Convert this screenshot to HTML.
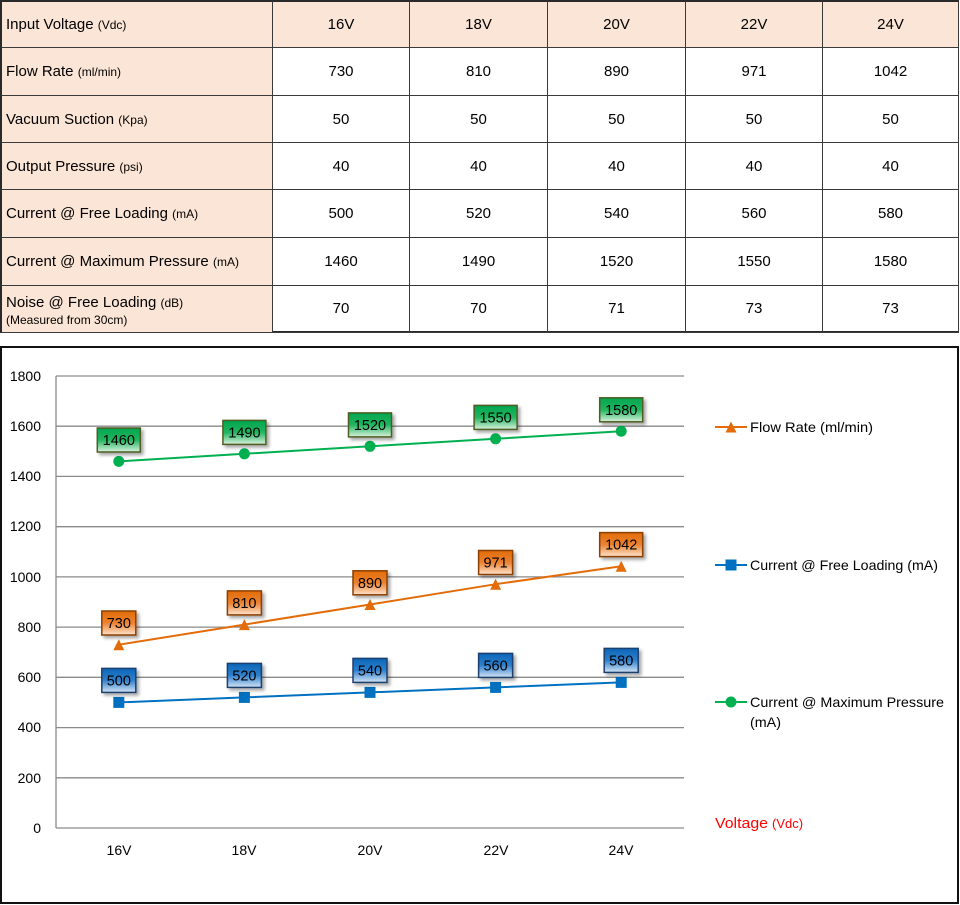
<!DOCTYPE html>
<html><head><meta charset="utf-8">
<style>
html,body{margin:0;padding:0;background:#fff;}
body{width:960px;height:905px;position:relative;overflow:hidden;font-family:"Liberation Sans",Arial,sans-serif;}
.c{position:absolute;box-sizing:border-box;display:flex;align-items:center;justify-content:center;font-size:15px;color:#000;border-right:1px solid #3a3a3a;border-bottom:1px solid #3a3a3a;}
.h{background:#fbe5d6;}
.l{justify-content:flex-start;padding-left:4px;background:#fbe5d6;}
.u{font-size:12px;}
</style></head><body>
<div style="position:absolute;left:0;top:0;width:959px;height:333px;box-sizing:border-box;border:2px solid #2a2a2a;border-right:1px solid #2a2a2a;"></div>
<div id="tbl"></div>
<script>
(function(){
var rows=[
 ['<span>Input Voltage <span class="u">(Vdc)</span></span>','16V','18V','20V','22V','24V'],
 ['<span>Flow Rate <span class="u">(ml/min)</span></span>','730','810','890','971','1042'],
 ['<span>Vacuum Suction <span class="u">(Kpa)</span></span>','50','50','50','50','50'],
 ['<span>Output Pressure <span class="u">(psi)</span></span>','40','40','40','40','40'],
 ['<span>Current @ Free Loading <span class="u">(mA)</span></span>','500','520','540','560','580'],
 ['<span>Current @ Maximum Pressure <span class="u">(mA)</span></span>','1460','1490','1520','1550','1580'],
 ['<div style="line-height:19px;padding-top:2px">Noise @ Free Loading <span class="u">(dB)</span><br><span class="u" style="display:block;line-height:14px">(Measured from 30cm)</span></div>','70','70','71','73','73']
];
var ys=[0,48,96,143,190,238,285.5,333];
var xs=[0,273,410,548,686,823,959];
var h='';
for(var r=0;r<7;r++){for(var c=0;c<6;c++){
 var cls='c'+(c==0?' l':(r==0?' h':''));
 var top=ys[r],ht=ys[r+1]-ys[r];
 h+='<div class="'+cls+'" style="left:'+xs[c]+'px;top:'+top+'px;width:'+(xs[c+1]-xs[c])+'px;height:'+ht+'px;'+(r==0?'border-top:2px solid #2a2a2a;':'')+(c==0?'border-left:2px solid #2a2a2a;':'')+'">'+rows[r][c]+'</div>';
}}
document.getElementById('tbl').innerHTML=h;
})();
</script>
<svg width="960" height="905" style="position:absolute;left:0;top:0" xmlns="http://www.w3.org/2000/svg" font-family="Liberation Sans, Arial, sans-serif">
<defs>
<linearGradient id="gg" x1="0" y1="0" x2="0" y2="1"><stop offset="0" stop-color="#00a650"/><stop offset="0.5" stop-color="#22b55e"/><stop offset="1" stop-color="#d9f2df"/></linearGradient>
<linearGradient id="go" x1="0" y1="0" x2="0" y2="1"><stop offset="0" stop-color="#e36c09"/><stop offset="0.5" stop-color="#ec8231"/><stop offset="1" stop-color="#fde3cd"/></linearGradient>
<linearGradient id="gb" x1="0" y1="0" x2="0" y2="1"><stop offset="0" stop-color="#0a66b8"/><stop offset="0.5" stop-color="#2f80cc"/><stop offset="1" stop-color="#d5e5f6"/></linearGradient>
<filter id="sh" x="-20%" y="-20%" width="150%" height="160%"><feDropShadow dx="2.5" dy="2.5" stdDeviation="1.5" flood-color="#000" flood-opacity="0.35"/></filter>
</defs>
<rect x="1" y="347" width="957" height="556" fill="#fff" stroke="#111" stroke-width="2"/>
<g stroke="#8a8a8a" stroke-width="1.3">
<line x1="56" y1="376" x2="684" y2="376"/>
<line x1="56" y1="426.2" x2="684" y2="426.2"/>
<line x1="56" y1="476.4" x2="684" y2="476.4"/>
<line x1="56" y1="526.7" x2="684" y2="526.7"/>
<line x1="56" y1="576.9" x2="684" y2="576.9"/>
<line x1="56" y1="627.1" x2="684" y2="627.1"/>
<line x1="56" y1="677.3" x2="684" y2="677.3"/>
<line x1="56" y1="727.6" x2="684" y2="727.6"/>
<line x1="56" y1="777.8" x2="684" y2="777.8"/>
<line x1="56" y1="828" x2="684" y2="828"/>
<line x1="56" y1="376" x2="56" y2="828"/>
</g>
<g font-size="14" fill="#000" text-anchor="end">
<text x="41" y="381">1800</text>
<text x="41" y="431">1600</text>
<text x="41" y="481">1400</text>
<text x="41" y="531">1200</text>
<text x="41" y="582">1000</text>
<text x="41" y="632">800</text>
<text x="41" y="682">600</text>
<text x="41" y="732">400</text>
<text x="41" y="783">200</text>
<text x="41" y="833">0</text>
</g>
<g font-size="14" fill="#000" text-anchor="middle">
<text x="119" y="855">16V</text>
<text x="244" y="855">18V</text>
<text x="370" y="855">20V</text>
<text x="496" y="855">22V</text>
<text x="621" y="855">24V</text>
</g>
<polyline points="118.8,461.4 244.4,453.8 370,446.3 495.6,438.8 621.2,431.2" fill="none" stroke="#00b050" stroke-width="2"/>
<polyline points="118.8,644.7 244.4,624.6 370,604.5 495.6,584.2 621.2,566.3" fill="none" stroke="#e36c09" stroke-width="2"/>
<polyline points="118.8,702.4 244.4,697.4 370,692.4 495.6,687.4 621.2,682.4" fill="none" stroke="#0070c0" stroke-width="2"/>
<g fill="#00b050">
<circle cx="118.8" cy="461.4" r="5.5"/><circle cx="244.4" cy="453.8" r="5.5"/><circle cx="370" cy="446.3" r="5.5"/><circle cx="495.6" cy="438.8" r="5.5"/><circle cx="621.2" cy="431.2" r="5.5"/>
</g>
<g fill="#e36c09">
<polygon points="113.3,650.2 124.3,650.2 118.8,639.2"/>
<polygon points="238.9,630.1 249.9,630.1 244.4,619.1"/>
<polygon points="364.5,610 375.5,610 370,599"/>
<polygon points="490.1,589.7 501.1,589.7 495.6,578.7"/>
<polygon points="615.7,571.8 626.7,571.8 621.2,560.8"/>
</g>
<g fill="#0070c0">
<rect x="113.3" y="696.9" width="11" height="11"/><rect x="238.9" y="691.9" width="11" height="11"/><rect x="364.5" y="686.9" width="11" height="11"/><rect x="490.1" y="681.9" width="11" height="11"/><rect x="615.7" y="676.9" width="11" height="11"/>
</g>
<g font-size="14.5" fill="#000" text-anchor="middle">
<g stroke="#4f5d22" stroke-width="1.5" fill="url(#gg)" filter="url(#sh)">
<rect x="97.3" y="428" width="43" height="24"/>
<rect x="222.9" y="420.4" width="43" height="24"/>
<rect x="348.5" y="412.9" width="43" height="24"/>
<rect x="474.1" y="405.4" width="43" height="24"/>
<rect x="599.7" y="397.8" width="43" height="24"/>
</g>
<text x="118.8" y="445">1460</text><text x="244.4" y="437.4">1490</text><text x="370" y="429.9">1520</text><text x="495.6" y="422.4">1550</text><text x="621.2" y="414.8">1580</text>
<g stroke="#8a3f06" stroke-width="1.5" fill="url(#go)" filter="url(#sh)">
<rect x="101.8" y="611" width="34" height="24"/>
<rect x="227.4" y="590.9" width="34" height="24"/>
<rect x="353" y="570.8" width="34" height="24"/>
<rect x="478.6" y="550.5" width="34" height="24"/>
<rect x="599.7" y="532.6" width="43" height="24"/>
</g>
<text x="118.8" y="628">730</text><text x="244.4" y="607.9">810</text><text x="370" y="587.8">890</text><text x="495.6" y="567.5">971</text><text x="621.2" y="549.6">1042</text>
<g stroke="#1f3f6e" stroke-width="1.5" fill="url(#gb)" filter="url(#sh)">
<rect x="101.8" y="668.4" width="34" height="24"/>
<rect x="227.4" y="663.4" width="34" height="24"/>
<rect x="353" y="658.4" width="34" height="24"/>
<rect x="478.6" y="653.4" width="34" height="24"/>
<rect x="604.2" y="648.4" width="34" height="24"/>
</g>
<text x="118.8" y="685.4">500</text><text x="244.4" y="680.4">520</text><text x="370" y="675.4">540</text><text x="495.6" y="670.4">560</text><text x="621.2" y="665.4">580</text>
</g>
<line x1="715" y1="427" x2="747" y2="427" stroke="#e36c09" stroke-width="2"/>
<polygon points="725.5,432.5 736.5,432.5 731,421.5" fill="#e36c09"/>
<text x="750" y="432" font-size="14" fill="#000" textLength="123" lengthAdjust="spacingAndGlyphs">Flow Rate (ml/min)</text>
<line x1="715" y1="565" x2="747" y2="565" stroke="#0070c0" stroke-width="2"/>
<rect x="725.5" y="559.5" width="11" height="11" fill="#0070c0"/>
<text x="750" y="570" font-size="14" fill="#000" textLength="188" lengthAdjust="spacingAndGlyphs">Current @ Free Loading (mA)</text>
<line x1="715" y1="702" x2="747" y2="702" stroke="#00b050" stroke-width="2"/>
<circle cx="731" cy="702" r="5.5" fill="#00b050"/>
<text x="750" y="707" font-size="14" fill="#000" textLength="194" lengthAdjust="spacingAndGlyphs">Current @ Maximum Pressure</text>
<text x="750" y="727" font-size="14" fill="#000" textLength="31" lengthAdjust="spacingAndGlyphs">(mA)</text>
<text x="715" y="828" font-size="15" fill="#ff0000"><tspan textLength="53" lengthAdjust="spacingAndGlyphs">Voltage</tspan><tspan font-size="13" dx="4">(Vdc)</tspan></text>
</svg>
</body></html>
